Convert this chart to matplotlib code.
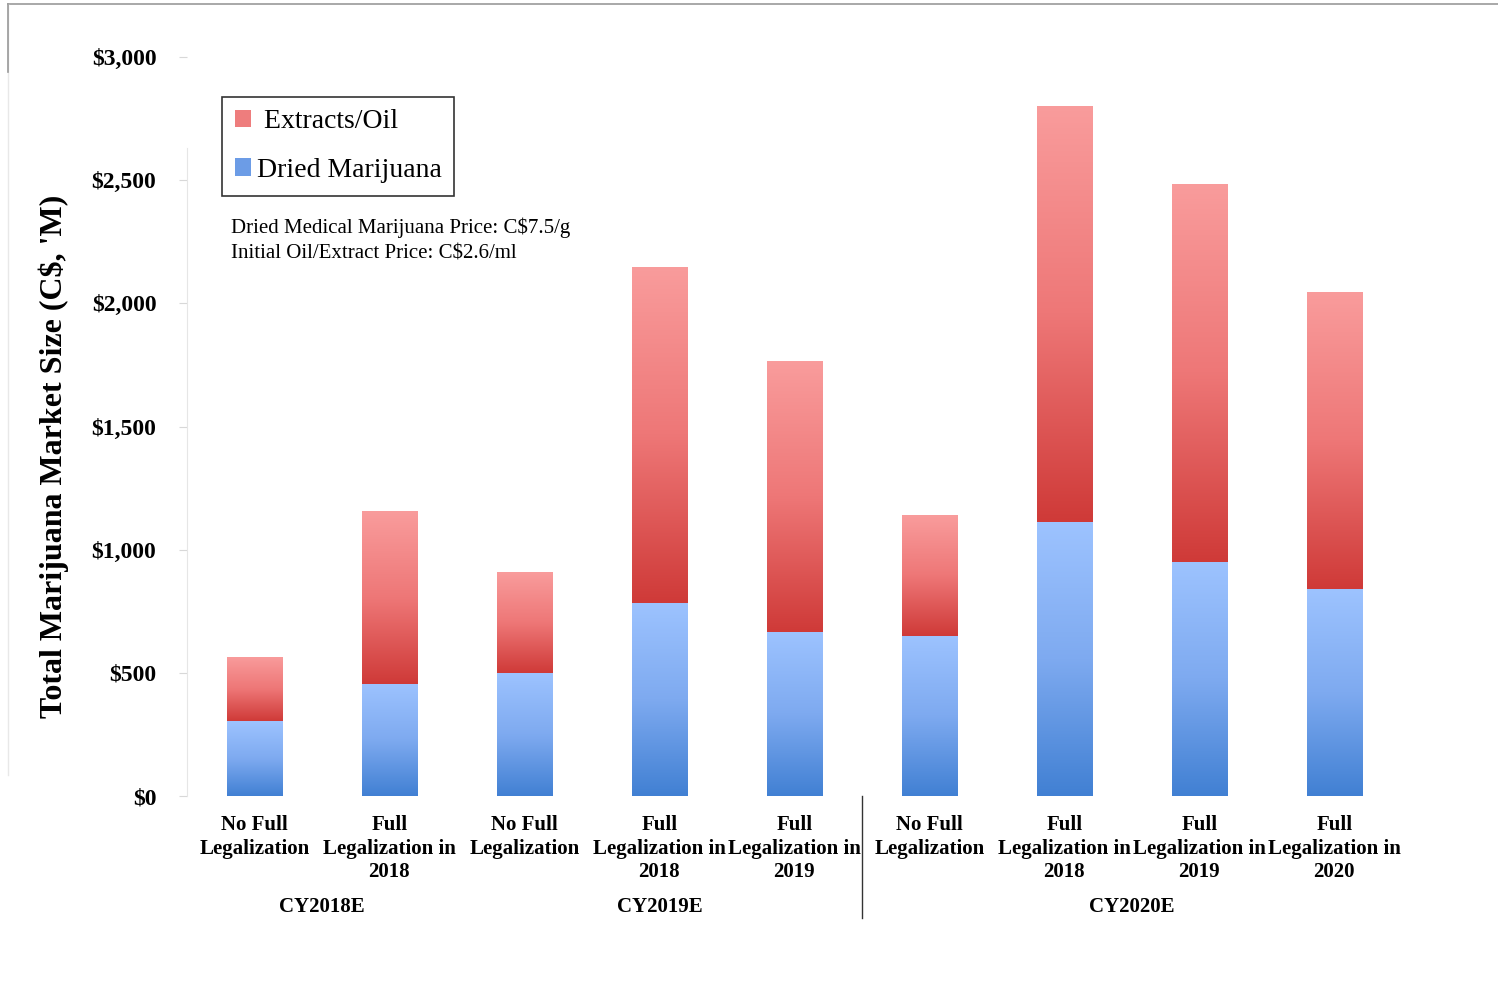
import numpy as np
import matplotlib
matplotlib.use("Agg")
import matplotlib.pyplot as plt
from matplotlib.colors import LinearSegmentedColormap
from matplotlib.patches import Patch
from matplotlib.lines import Line2D

plt.rcParams['font.family'] = ['Liberation Serif', 'DejaVu Serif']

# Market size by scenario, C$ millions
scenarios = [
    "No Full\nLegalization",
    "Full\nLegalization in\n2018",
    "No Full\nLegalization",
    "Full\nLegalization in\n2018",
    "Full\nLegalization in\n2019",
    "No Full\nLegalization",
    "Full\nLegalization in\n2018",
    "Full\nLegalization in\n2019",
    "Full\nLegalization in\n2020",
]
dried = [304, 455, 499, 784, 666, 650, 1112, 950, 840]
extracts = [260, 702, 410, 1364, 1100, 491, 1689, 1535, 1206]
years = ["CY2018E", "CY2019E", "CY2020E"]
year_groups = [(0, 1), (2, 4), (5, 8)]

red_cmap = LinearSegmentedColormap.from_list("red", ["#F99C9C", "#EE7777", "#CF3A38"])
blue_cmap = LinearSegmentedColormap.from_list("blue", ["#9DC3FF", "#7EAAF0", "#4180D3"])

fig = plt.figure(figsize=(14.98, 9.83), dpi=100)
ax = fig.add_axes([0.1248, 0.1902, 0.8110, 0.7518])

x = np.arange(len(scenarios))
width = 0.41
grad = np.linspace(0, 1, 256).reshape(-1, 1)


def gradient_bars(bars, cmap):
    for b in bars:
        x0, y0 = b.get_x(), b.get_y()
        w, h = b.get_width(), b.get_height()
        im = ax.imshow(grad, cmap=cmap, aspect='auto', origin='upper',
                       extent=(x0, x0 + w, y0, y0 + h), zorder=2)
        im.set_clip_path(b)


b1 = ax.bar(x, dried, width, color='none', edgecolor='none', zorder=3)
b2 = ax.bar(x, extracts, width, bottom=dried, color='none', edgecolor='none', zorder=3)
gradient_bars(b1, blue_cmap)
gradient_bars(b2, red_cmap)

ax.set_xlim(-0.5, 8.5)
ax.set_ylim(0, 3000)
ax.set_yticks(range(0, 3001, 500))
ax.set_yticklabels([f"${v:,}" for v in range(0, 3001, 500)],
                   fontsize=17, fontweight='bold')
ax.tick_params(axis='y', length=6, color='#d8d8d8', pad=16)
ax.set_xticks(x)
ax.set_xticklabels(scenarios, fontsize=15, fontweight='bold', linespacing=1.25)
ax.tick_params(axis='x', length=0, pad=13.5)

for s in ['top', 'right', 'bottom']:
    ax.spines[s].set_visible(False)
ax.spines['left'].set_color('#e6e6e6')
ax.spines['left'].set_bounds(0, 2630)

ax.set_ylabel("Total Marijuana Market Size (C$, 'M)", fontsize=23,
              fontweight='bold')
ax.yaxis.set_label_coords(-0.097, 0.459)

# year group labels under the scenario labels
for label, (a, b) in zip(years, year_groups):
    ax.text((a + b) / 2, -0.15, label, transform=ax.get_xaxis_transform(),
            ha='center', va='center', fontsize=15, fontweight='bold')

ax.add_line(Line2D([4.5, 4.5], [0, -0.165], transform=ax.get_xaxis_transform(),
                   color='#333333', lw=1, clip_on=False))

handles = [Patch(facecolor='#EE7D7D', label=' Extracts/Oil'),
           Patch(facecolor='#6C9CE6', label='Dried Marijuana')]
leg = ax.legend(handles=handles, loc='upper left', bbox_to_anchor=(0.029, 0.946),
                fontsize=20, frameon=True, fancybox=False, handlelength=0.6,
                handleheight=0.6, handletextpad=0.2, borderpad=0.45,
                labelspacing=0.85, borderaxespad=0)
leg.get_frame().set_edgecolor('black')
leg.get_frame().set_linewidth(1.2)

ax.text(0.036, 0.783, "Dried Medical Marijuana Price: C$7.5/g\nInitial Oil/Extract Price: C$2.6/ml",
        transform=ax.transAxes, fontsize=15, va='top', ha='left', linespacing=1.5)

# outer frame lines
fig.add_artist(Line2D([8 / 1498, 1], [1 - 4 / 983, 1 - 4 / 983], color='#999999', lw=1.2))
fig.add_artist(Line2D([8 / 1498, 8 / 1498], [1 - 4 / 983, 1 - 775 / 983], color='#e8e8e8', lw=1))
fig.add_artist(Line2D([8 / 1498, 8 / 1498], [1 - 4 / 983, 1 - 72 / 983], color='#999999', lw=1.2))

fig.savefig("out.png", dpi=100)
